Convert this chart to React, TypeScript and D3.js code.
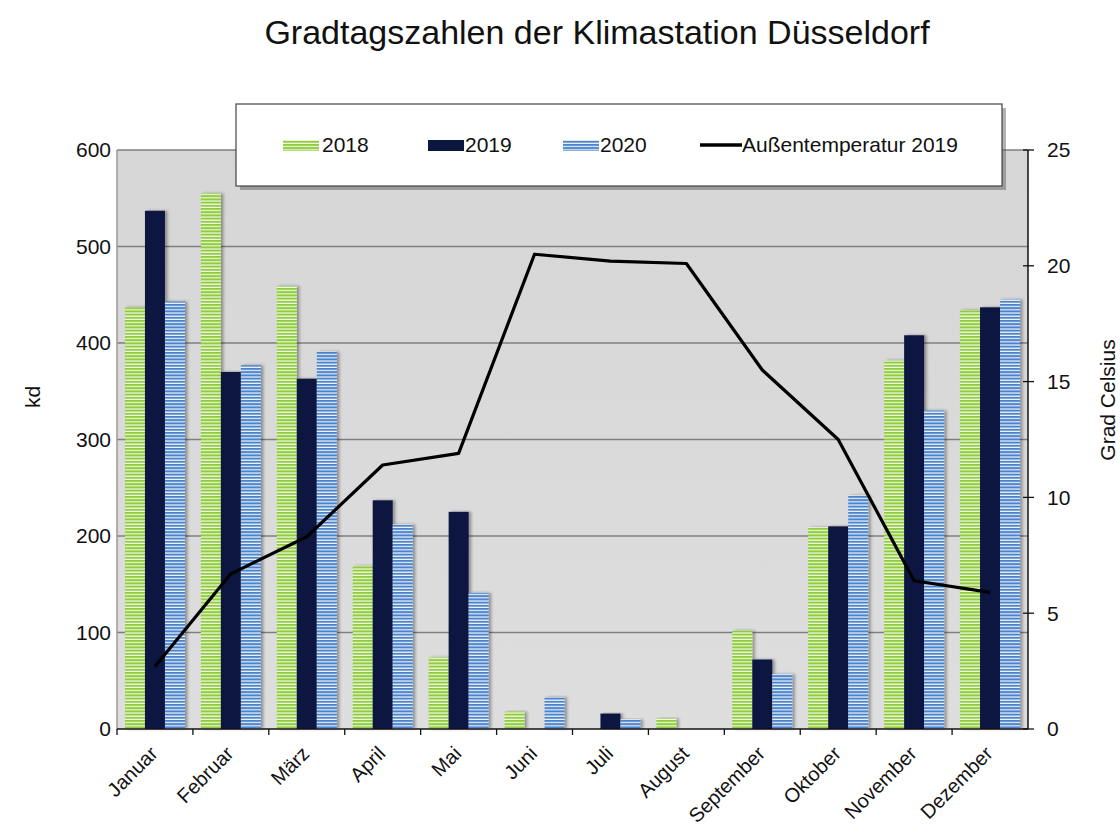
import React from "react";
import * as d3 from "d3";

const months = ["Januar","Februar","März","April","Mai","Juni","Juli","August","September","Oktober","November","Dezember"];
const kd2018 = [437, 555, 459, 169, 74, 18, 0, 11, 102, 209, 382, 434];
const kd2019 = [537, 370, 363, 237, 225, 0, 16, 0, 72, 210, 408, 437];
const kd2020 = [443, 377, 391, 212, 141, 33, 10, 0, 57, 242, 330, 445];
const temp2019 = [2.7, 6.7, 8.3, 11.4, 11.9, 20.5, 20.2, 20.1, 15.5, 12.5, 6.4, 5.9];
const leftTicks = [0, 100, 200, 300, 400, 500, 600];
const rightTicks = [0, 5, 10, 15, 20, 25];
const seriesNames = ["2018", "2019", "2020"];
const lineName = "Außentemperatur 2019";

const W = 1120, H = 831;
const M = { left: 117, right: 1028, top: 150, bottom: 729 };
const FONT = "'Liberation Sans', Arial, sans-serif";

export default function App() {
  const x = d3.scaleBand<string>().domain(months).range([M.left, M.right]).paddingInner(0).paddingOuter(0);
  const bw = x.bandwidth();
  const x1 = d3.scaleBand<string>().domain(seriesNames).range([bw * 0.105, bw * 0.895]).padding(0);
  const yL = d3.scaleLinear().domain([0, 600]).range([M.bottom, M.top]);
  const yR = d3.scaleLinear().domain([0, 25]).range([M.bottom, M.top]);
  const series = [kd2018, kd2019, kd2020];
  const fills = ["url(#pGreen)", "#0b173f", "url(#pBlue)"];
  const line = d3.line<number>().x((_, i) => x(months[i])! + bw / 2).y(d => yR(d));

  return (
    <svg width={W} height={H} style={{ display: "block", position: "absolute", left: 0, top: 0, background: "#fff" }} fontFamily={FONT}>
      <defs>
        <pattern id="pGreen" width="4" height="3.2" patternUnits="userSpaceOnUse">
          <rect width="4" height="3.2" fill="#f4fbe8" />
          <rect width="4" height="2" fill="#8fcb3c" />
        </pattern>
        <pattern id="pBlue" width="4" height="3.2" patternUnits="userSpaceOnUse">
          <rect width="4" height="3.2" fill="#f2f6fc" />
          <rect width="4" height="2" fill="#4b84cc" />
        </pattern>
        <linearGradient id="bgGrad" x1="0" y1="0" x2="0" y2="1">
          <stop offset="0" stopColor="#d6d6d6" />
          <stop offset="1" stopColor="#dedede" />
        </linearGradient>
        <filter id="shadow" x="-20%" y="-5%" width="150%" height="110%">
          <feDropShadow dx="2.5" dy="0" stdDeviation="1.5" floodColor="#000" floodOpacity="0.35" />
        </filter>
      </defs>

      <text x={597} y={44} textAnchor="middle" fontSize={34} fill="#111">Gradtagszahlen der Klimastation Düsseldorf</text>

      <rect x={M.left} y={M.top} width={M.right - M.left} height={M.bottom - M.top} fill="url(#bgGrad)" />

      {leftTicks.filter(t => t > 0).map(t => (
        <line key={t} x1={M.left} x2={M.right} y1={yL(t)} y2={yL(t)} stroke="#7f7f7f" strokeWidth={1.3} />
      ))}

      {series.map((s, si) => s.map((v, i) => v > 0 ? (
        <rect key={si + "-" + i} x={x(months[i])! + x1(seriesNames[si])!} y={yL(v)} width={x1.bandwidth()} height={yL(0) - yL(v)}
          fill={fills[si]} filter="url(#shadow)" />
      ) : null))}

      {/* left axis */}
      <line x1={M.left} x2={M.left} y1={M.top} y2={M.bottom} stroke="#9a9a9a" strokeWidth={1.5} />
      {leftTicks.map(t => (
        <text key={t} x={111} y={yL(t)} dy="0.35em" textAnchor="end" fontSize={21} fill="#111">{t}</text>
      ))}
      <text transform={`translate(40,397) rotate(-90)`} textAnchor="middle" fontSize={21} fill="#111">kd</text>

      {/* right axis */}
      <line x1={M.right} x2={M.right} y1={M.top} y2={M.bottom} stroke="#111" strokeWidth={1.5} />
      {rightTicks.map(t => (
        <g key={t}>
          <line x1={M.right - 5} x2={M.right + 6} y1={yR(t)} y2={yR(t)} stroke="#111" strokeWidth={1.3} />
          <text x={1047} y={yR(t)} dy="0.35em" textAnchor="start" fontSize={21} fill="#111">{t}</text>
        </g>
      ))}
      <text transform={`translate(1115,400) rotate(-90)`} textAnchor="middle" fontSize={21} fill="#111">Grad Celsius</text>

      {/* bottom axis */}
      <line x1={M.left} x2={M.right} y1={M.bottom} y2={M.bottom} stroke="#111" strokeWidth={1.5} />
      {months.map(m => (
        <line key={m} x1={x(m)!} x2={x(m)!} y1={M.bottom} y2={M.bottom + 6} stroke="#111" strokeWidth={1.3} />
      ))}
      {months.map(m => {
        const cx = x(m)! + bw / 2 - 6;
        return (
          <text key={m} transform={`translate(${cx},${M.bottom + 16}) rotate(-45)`} textAnchor="end" dy="0.7em" fontSize={20} fill="#111">{m}</text>
        );
      })}

      <path d={line(temp2019)!} fill="none" stroke="#000" strokeWidth={3.2} strokeLinejoin="round" />

      {/* legend */}
      <rect x={240} y={108} width={766} height={82} fill="#555" opacity={0.45} />
      <rect x={236} y={104} width={766} height={82} fill="#fff" stroke="#444" strokeWidth={1.2} />
      <rect x={283} y={140} width={36} height={11} fill="url(#pGreen)" />
      <text x={322} y={145} dy="0.35em" fontSize={21} fill="#111">{seriesNames[0]}</text>
      <rect x={428} y={140} width={36} height={11} fill="#0b173f" />
      <text x={465} y={145} dy="0.35em" fontSize={21} fill="#111">{seriesNames[1]}</text>
      <rect x={563} y={140} width={36} height={11} fill="url(#pBlue)" />
      <text x={600} y={145} dy="0.35em" fontSize={21} fill="#111">{seriesNames[2]}</text>
      <line x1={700} x2={742} y1={145} y2={145} stroke="#000" strokeWidth={3.5} />
      <text x={742} y={145} dy="0.35em" fontSize={21} fill="#111">{lineName}</text>
    </svg>
  );
}
